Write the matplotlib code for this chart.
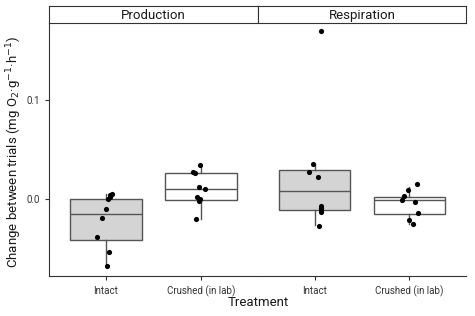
import numpy as np
import matplotlib
matplotlib.use('Agg')
import matplotlib.pyplot as plt

plt.rcParams['font.family'] = ['Roboto', 'DejaVu Sans']

panels = ['Production', 'Respiration']
treatments = ['Intact', 'Crushed (in lab)']
box_fill = ['#d4d4d4', 'white']

# box stats: [q1, median, q3, whisker low, whisker high]
prod_intact_box = [-0.0414, -0.0152, 0.0007, -0.0670, 0.0058]
prod_crushed_box = [-0.0003, 0.0101, 0.0261, -0.0200, 0.0343]
resp_intact_box = [-0.0104, 0.0081, 0.0293, -0.0256, 0.0360]
resp_crushed_box = [-0.0145, -0.0010, 0.0023, -0.0246, 0.0125]

# jittered points: values and x jitter (in category units)
prod_intact_y = [0.0058, 0.0047, 0.0023, 0.0, -0.0101, -0.0192, -0.038, -0.053, -0.0667]
prod_intact_dx = [0.058, 0.047, 0.037, 0.026, 0.002, -0.047, -0.100, 0.034, 0.006]
prod_crushed_y = [0.0343, 0.0276, 0.0263, 0.0121, 0.0108, 0.0023, 0.0, -0.002, -0.0199]
prod_crushed_dx = [-0.013, -0.089, -0.068, -0.026, 0.047, -0.040, -0.013, -0.023, -0.055]
resp_intact_y = [0.1697, 0.036, 0.027, 0.0222, -0.0068, -0.0088, -0.0108, -0.0128, -0.0266]
resp_intact_dx = [0.067, -0.021, -0.056, 0.039, 0.063, 0.063, 0.063, 0.063, 0.042]
resp_crushed_y = [0.0152, 0.0098, 0.003, -0.0003, -0.003, -0.0138, -0.0212, -0.0253]
resp_crushed_dx = [0.079, -0.012, -0.054, -0.075, 0.058, 0.097, 0.002, 0.044]

boxes = [[prod_intact_box, prod_crushed_box], [resp_intact_box, resp_crushed_box]]
pts_y = [[prod_intact_y, prod_crushed_y], [resp_intact_y, resp_crushed_y]]
pts_dx = [[prod_intact_dx, prod_crushed_dx], [resp_intact_dx, resp_crushed_dx]]

W, H = 475, 316
fig = plt.figure(figsize=(W / 100, H / 100), dpi=100)

edge = '#555555'
lefts = [49, 258]
rights = [258, 466]
top, bottom, strip_top = 23, 276, 6

for p in range(2):
    ax = fig.add_axes([lefts[p] / W, (H - bottom) / H, (rights[p] - lefts[p]) / W, (bottom - top) / H])
    stats = []
    for t in range(2):
        q1, med, q3, lo, hi = boxes[p][t]
        stats.append(dict(q1=q1, med=med, q3=q3, whislo=lo, whishi=hi, fliers=[]))
    bp = ax.bxp(stats, positions=[1, 2], widths=0.75, patch_artist=True,
                showcaps=False, showfliers=False,
                boxprops=dict(edgecolor=edge, linewidth=1.0),
                medianprops=dict(color=edge, linewidth=1.0),
                whiskerprops=dict(color=edge, linewidth=1.0))
    for patch, fc in zip(bp['boxes'], box_fill):
        patch.set_facecolor(fc)
    for t in range(2):
        xs = np.array(pts_dx[p][t]) + t + 1
        ax.scatter(xs, pts_y[p][t], s=14, color='black', zorder=5, linewidths=0)

    ax.set_xlim(0.4, 2.6)
    ax.set_ylim(-0.0772, 0.1775)
    ax.set_xticks([1, 2])
    ax.set_xticklabels(treatments, fontsize=7, color='#333333')
    ax.spines['top'].set_visible(False)
    ax.spines['right'].set_visible(False)
    ax.spines['bottom'].set_color('#333333')
    ax.spines['left'].set_color('#333333')
    ax.tick_params(axis='x', length=3, color='#333333', pad=4)
    if p == 0:
        ax.set_yticks([0.0, 0.1])
        ax.set_yticklabels(['0.0', '0.1'], fontsize=7, color='#333333')
        ax.tick_params(axis='y', length=3, color='#333333')
    else:
        ax.spines['left'].set_visible(False)
        ax.set_yticks([])

    # facet strip
    sax = fig.add_axes([lefts[p] / W, (H - top) / H, (rights[p] - lefts[p]) / W, (top - strip_top) / H])
    sax.set_xticks([])
    sax.set_yticks([])
    for s in sax.spines.values():
        s.set_color('#333333')
    sax.text(0.5, 0.45, panels[p], ha='center', va='center', fontsize=9.5, color='#1a1a1a')

fig.text(14 / W, 1 - 152 / H, 'Change between trials (mg O$_2$·g$^{-1}$·h$^{-1}$)',
         rotation=90, ha='center', va='center', fontsize=9.5, color='#1a1a1a')
fig.text(258 / W, 1 - 302 / H, 'Treatment', ha='center', va='center', fontsize=9.5, color='#1a1a1a')

fig.savefig('out.png', dpi=100)
